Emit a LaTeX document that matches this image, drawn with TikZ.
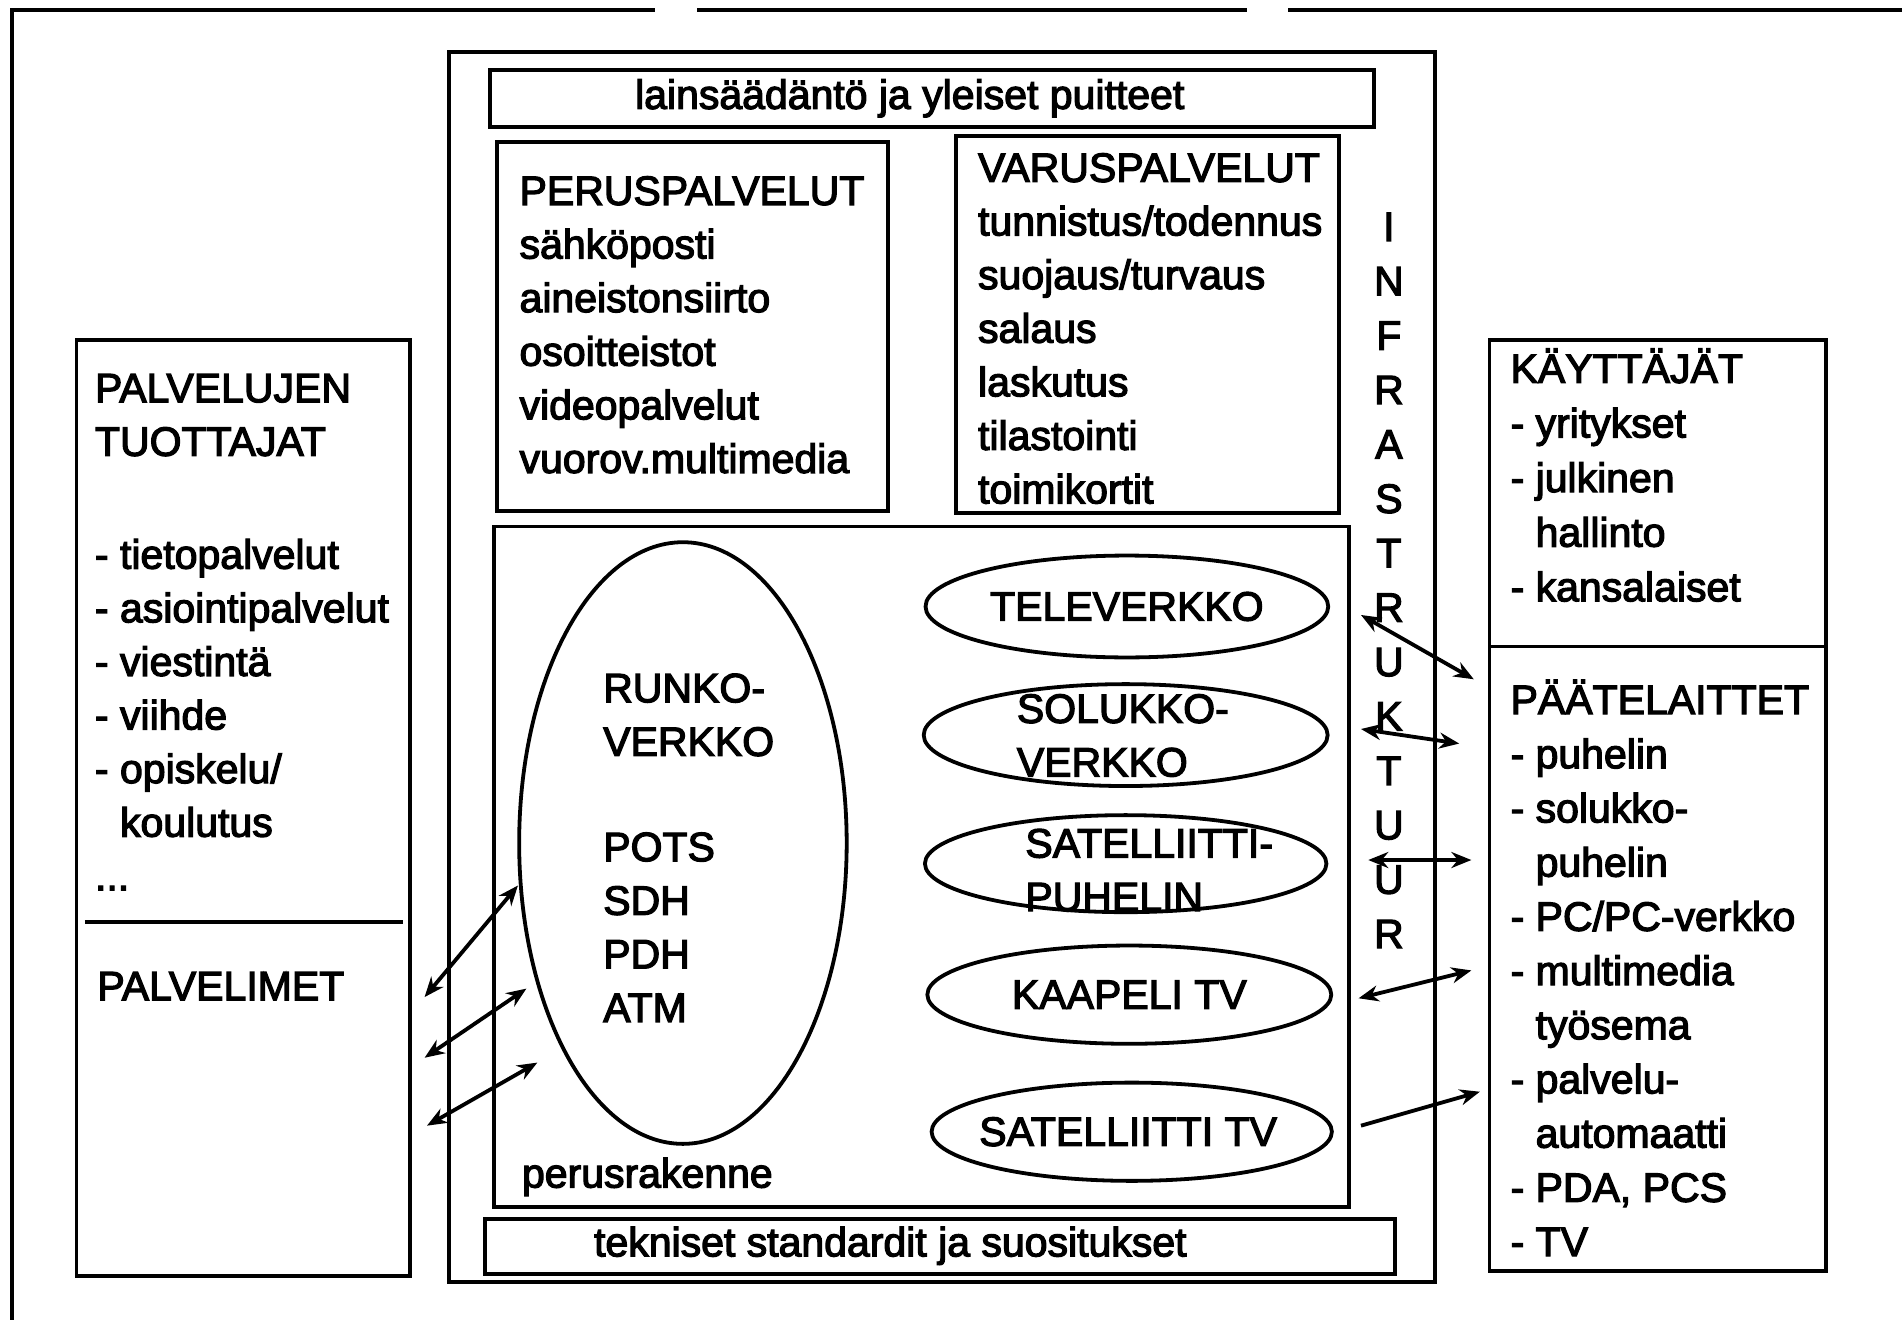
\documentclass[tikz,border=0pt]{standalone}
\usepackage{fontspec}
\setmainfont{Liberation Sans}[RawFeature={embolden=3}]
\usetikzlibrary{shapes.geometric,arrows.meta}
\begin{document}
\begin{tikzpicture}[x=0.6065pt,y=-0.6065pt,
  frame/.style={line width=1.9pt},
  txt/.style={font=\fontsize{20.5}{26.8}\selectfont, inner sep=0pt, align=left, anchor=north west},
  ctxt/.style={font=\fontsize{20.5}{26.8}\selectfont, inner sep=0pt},
  ell/.style={draw, ellipse, line width=1.9pt, inner sep=0pt, font=\fontsize{20.5}{26.8}\selectfont},
  biarr/.style={line width=1.9pt, {Stealth[length=10pt,width=8pt]}-{Stealth[length=10pt,width=8pt]}},
  oarr/.style={line width=1.9pt, -{Stealth[length=10pt,width=8pt]}}]
\useasboundingbox (0,0) rectangle (1568,1088);
% outer frame (top and left)
\draw[frame] (10,1088) -- (10,8) -- (540,8);
\draw[frame] (575,8) -- (1028,8);
\draw[frame] (1062,8) -- (1568,8);
% central box
\draw[frame] (370,43) rectangle (1183,1057);
\draw[frame] (404,58) rectangle (1133,105);
\node[ctxt] (laki) at (750,81) {lainsäädäntö ja yleiset puitteet};
\draw[frame] (410,117) rectangle (732,421);
\node[txt] (perus) at (428,145) {PERUSPALVELUT\\sähköposti\\aineistonsiirto\\osoitteistot\\videopalvelut\\vuorov.multimedia};
\draw[frame] (788,112) rectangle (1104,423);
\node[txt] (varus) at (806,126) {VARUSPALVELUT\\tunnistus/todennus\\suojaus/turvaus\\salaus\\laskutus\\tilastointi\\toimikortit};
\node[ctxt, align=center, anchor=north, font=\fontsize{20.5}{27.2}\selectfont] (infra) at (1145,175) {I\\N\\F\\R\\A\\S\\T\\R\\U\\K\\T\\U\\U\\R};
\draw[frame] (407,434) rectangle (1112,995);
\draw[frame] (400,1005) rectangle (1150,1050);
\node[ctxt] (tekn) at (734,1027) {tekniset standardit ja suositukset};
% perusrakenne
\node[ell, minimum width=270*0.6065pt, minimum height=496*0.6065pt] (runko) at (563,695) {};
\node[txt] (runko1) at (497,555) {RUNKO-\\VERKKO};
\node[txt] (runko2) at (497,686) {POTS\\SDH\\PDH\\ATM};
\node[ctxt, anchor=base west] (perusr) at (430,979) {perusrakenne};
\node[ell, minimum width=332*0.6065pt, minimum height=84*0.6065pt] (tele) at (929,500) {TELEVERKKO};
\node[ell, minimum width=333*0.6065pt, minimum height=84*0.6065pt] (solu) at (928,606) {};
\node[txt] (solut) at (838,572) {SOLUKKO-\\VERKKO};
\node[ell, minimum width=331*0.6065pt, minimum height=80*0.6065pt] (satp) at (928,712) {};
\node[txt] (satpt) at (845,683) {SATELLIITTI-\\PUHELIN};
\node[ell, minimum width=333*0.6065pt, minimum height=81*0.6065pt] (kaap) at (931,820) {KAAPELI TV};
\node[ell, minimum width=330*0.6065pt, minimum height=81*0.6065pt] (satt) at (933,933) {};
\node[ctxt] (sattt) at (930,933) {SATELLIITTI TV};
% left box
\draw[frame] (63,280) rectangle (338,1052);
\draw[frame] (70,760) -- (332,760);
\node[txt] (tuott) at (78,308) {PALVELUJEN\\TUOTTAJAT};
\node[txt] (tuotl) at (78,444) {- tietopalvelut\\- asiointipalvelut\\- viestintä\\- viihde\\- opiskelu/\\\phantom{- }koulutus\\...};
\node[txt] (palvm) at (80,801) {PALVELIMET};
% right box
\draw[frame] (1228,280) rectangle (1505,1048);
\draw[frame] (1228,533) -- (1505,533);
\node[txt, font=\fontsize{20.5}{27.3}\selectfont] (kayt) at (1245,287) {KÄYTTÄJÄT\\- yritykset\\- julkinen\\\phantom{- }hallinto\\- kansalaiset};
\node[txt, font=\fontsize{20.5}{27.1}\selectfont] (paate) at (1245,560) {PÄÄTELAITTET\\- puhelin\\- solukko-\\\phantom{- }puhelin\\- PC/PC-verkko\\- multimedia\\\phantom{- }työsema\\- palvelu-\\\phantom{- }automaatti\\- PDA, PCS\\- TV};
% arrow end points
\coordinate (l1a) at (350,822); \coordinate (l1b) at (427,730);
\coordinate (l2a) at (350,872); \coordinate (l2b) at (434,815);
\coordinate (l3a) at (352,928); \coordinate (l3b) at (443,876);
\coordinate (r1a) at (1122,507); \coordinate (r1b) at (1215,560);
\coordinate (r2a) at (1122,601); \coordinate (r2b) at (1203,613);
\coordinate (r3a) at (1128,709); \coordinate (r3b) at (1213,709);
\coordinate (r4a) at (1120,823); \coordinate (r4b) at (1213,800);
\coordinate (r5a) at (1122,928); \coordinate (r5b) at (1220,900);
\draw[biarr] (l1a) -- (l1b);
\draw[biarr] (l2a) -- (l2b);
\draw[biarr] (l3a) -- (l3b);
\draw[biarr] (r1a) -- (r1b);
\draw[biarr] (r2a) -- (r2b);
\draw[biarr] (r3a) -- (r3b);
\draw[biarr] (r4a) -- (r4b);
\draw[oarr] (r5a) -- (r5b);
\end{tikzpicture}
\end{document}
